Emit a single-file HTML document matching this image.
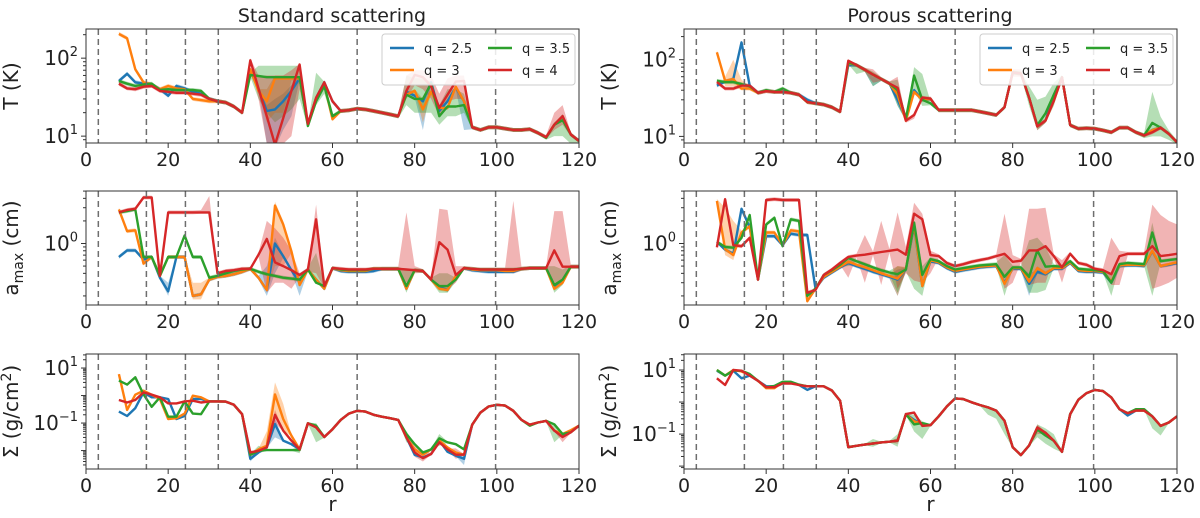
<!DOCTYPE html>
<html><head><meta charset="utf-8">
<style>
html,body{margin:0;padding:0;background:#fff;}
svg{display:block;font-family:"DejaVu Sans","Liberation Sans",sans-serif;}
</style></head>
<body>
<svg id="fig" width="1200" height="518" viewBox="0 0 1200 518"></svg>
<script>
const rVals=[8,10,12,14,16,18,20,22,24,26,28,30,32,34,36,38,40,42,44,46,48,50,52,54,56,58,60,62,64,66,68,70,72,74,76,78,80,82,84,86,88,90,92,94,96,98,100,102,104,106,108,110,112,114,116,118,120];
const xTicks=[0,20,40,60,80,100,120];
const gaps=[3,14.7,24.2,32.2,66,99.7];
const seriesNames=["q = 2.5","q = 3","q = 3.5","q = 4"];

// ---- Standard T ----
const T_std_red=[47,41,40,43,44,38,37,36,36,35,34,30,28,27,24,20,94,41,18,7.8,17,38,83,14.4,31,49,28,21,21.5,22.5,22,21,20,19,18,38,61,57,44,23,34,50,51,13,12,13,13,12.5,12,12,12.3,11,9.7,14,18,10.5,8.7];
const T_std_blue={8:51,10:63,12:49,14:47,16:46,18:40,20:33,22:44,24:41,26:37,28:35,30:30,40:69,42:40,44:21,46:22,48:28,50:38,52:55,78:37,80:33,82:28,84:49,86:21,88:28,90:42,92:28};
const T_std_orange={8:205,10:180,12:72,14:49,16:46,18:40,20:44,22:41,24:40,26:30,28:29,30:28,40:72,42:38,44:28,46:55,48:55,50:55,52:55,54:14,58:46,60:16.5,78:34,80:38,82:22,84:37,86:23,88:23,90:43,92:28};
const T_std_green={8:51,10:47,12:44,14:46,16:47,18:39,20:40,22:39,24:39,26:39,28:38,30:30,40:61,42:59,44:57,46:57,48:57,50:57,52:57,54:13.5,56:28,58:44,60:18,78:34,80:30,82:30,84:47,86:18,88:24,90:24,92:25,112:9.5,114:14,116:16};
const T_std_band_red={42:[30,60],44:[8,60],46:[6,60],48:[8,60],50:[10,70],52:[40,85],78:[30,60],80:[45,70],82:[40,70],84:[30,60],86:[18,35],88:[28,55],90:[30,60],92:[30,60],114:[12,20],116:[14,25]};
const T_std_band_green={42:[30,80],44:[20,80],46:[15,80],48:[18,80],50:[22,80],52:[30,80],56:[25,65],58:[35,50],78:[25,60],80:[20,55],82:[20,55],84:[20,50],86:[14,25],88:[18,40],90:[18,40],92:[20,35],114:[10,15],116:[10,18],118:[8,10],120:[7.5,9]};
const T_std_band_blue={44:[8,25],46:[7,30],48:[12,35],50:[18,45],82:[12,30],92:[12,30]};
const T_std_band_orange={44:[15,40],46:[20,60],48:[20,60],82:[15,30]};

// ---- Standard amax ----
const A_std_red=[2.6,2.8,2.9,4.1,4.1,0.37,2.6,2.6,2.6,2.6,2.6,2.6,0.40,0.43,0.44,0.46,0.46,0.71,1.15,0.56,0.5,0.44,0.38,0.45,2.1,0.27,0.47,0.46,0.45,0.45,0.45,0.46,0.46,0.46,0.46,0.45,0.44,0.43,0.33,1.04,0.83,0.38,0.47,0.46,0.45,0.45,0.45,0.45,0.45,0.46,0.47,0.47,0.47,0.81,0.49,0.49,0.49];
const A_std_blue={8:0.66,10:0.81,12:0.81,14:0.61,16:0.66,18:0.35,20:0.23,22:0.66,24:0.66,26:0.2,28:0.21,30:0.33,32:0.36,34:0.37,36:0.39,38:0.42,42:0.35,44:0.24,46:1.0,48:0.68,50:0.44,52:0.3,56:0.33,58:0.25,62:0.43,64:0.42,66:0.42,68:0.42,70:0.43,78:0.25,84:0.33,86:0.26,88:0.24,90:0.36,94:0.44,96:0.43,98:0.42,100:0.42,102:0.42,104:0.42,114:0.27,116:0.32};
const A_std_orange={8:2.85,10:1.46,12:1.5,14:0.54,16:0.66,20:0.66,22:0.66,24:0.66,26:0.2,28:0.21,30:0.33,32:0.36,34:0.37,36:0.39,38:0.42,42:0.35,44:0.24,46:3.2,48:1.8,50:0.79,52:0.28,56:0.33,58:0.25,62:0.44,64:0.43,66:0.43,68:0.43,78:0.25,84:0.33,86:0.25,88:0.24,90:0.37,94:0.45,96:0.44,98:0.44,100:0.44,102:0.43,104:0.43,114:0.25,116:0.3};
const A_std_green={8:2.6,10:2.7,12:2.85,14:0.66,16:0.66,20:0.66,22:0.66,24:1.28,26:0.66,28:0.66,30:0.35,32:0.37,34:0.40,36:0.43,38:0.45,42:0.42,44:0.39,46:0.37,48:0.35,50:0.34,52:0.33,56:0.3,58:0.27,62:0.45,64:0.44,66:0.44,68:0.44,78:0.27,84:0.33,86:0.27,88:0.27,90:0.33,114:0.28,116:0.33};
const A_std_band_red={28:[2.5,2.8],30:[2.5,4.3],44:[0.22,2.0],46:[0.3,1.6],48:[0.3,1.2],50:[0.25,0.8],56:[0.4,3.3],78:[0.3,2.6],80:[0.4,0.5],86:[0.25,2.9],88:[0.25,2.8],90:[0.3,0.5],104:[0.4,3.7],114:[0.3,2.7],116:[0.3,2.7]};
const A_std_band_green={56:[0.3,0.75],78:[0.22,0.45],86:[0.22,0.4],88:[0.22,0.4],114:[0.22,0.5],116:[0.28,0.45]};
const A_std_band_blue={20:[0.2,0.3],44:[0.2,0.5],46:[0.4,1.2],52:[0.2,0.4]};
const A_std_band_orange={26:[0.18,0.3],28:[0.18,0.3],46:[0.5,3.6],48:[0.5,2]};

// ---- Standard Sigma ----
const S_std_red=[0.69,0.56,0.69,1.3,1.07,0.86,0.52,0.52,0.61,0.65,0.56,0.61,0.61,0.6,0.46,0.21,0.0085,0.0098,0.013,0.2,0.053,0.023,0.011,0.098,0.07,0.031,0.06,0.13,0.22,0.28,0.26,0.2,0.17,0.15,0.13,0.03,0.0085,0.0053,0.0075,0.02,0.011,0.0071,0.0071,0.087,0.24,0.4,0.46,0.43,0.28,0.13,0.087,0.105,0.12,0.053,0.031,0.046,0.08];
const S_std_blue={8:0.26,10:0.18,12:0.35,14:1.3,16:0.86,18:0.86,20:0.75,22:0.14,24:0.18,26:0.75,28:0.75,30:0.61,40:0.005,42:0.0085,44:0.013,46:0.092,48:0.023,50:0.017,52:0.011,80:0.007,82:0.0056,84:0.0075,86:0.023,88:0.009,90:0.0065,92:0.005,116:0.035,118:0.05};
const S_std_orange={8:6,10:0.3,12:1.07,14:1.5,16:1.07,18:0.75,20:0.14,22:0.15,24:0.22,26:0.99,28:0.86,30:0.61,40:0.007,42:0.011,44:0.015,46:1.1,48:0.14,50:0.035,52:0.011,80:0.011,82:0.007,84:0.011,86:0.023,88:0.013,90:0.0085,92:0.007,116:0.04,118:0.055};
const S_std_green={8:3.5,10:2.5,12:4.6,14:1.1,16:0.39,18:0.86,20:0.17,22:0.17,24:0.61,26:0.22,28:0.21,30:0.61,40:0.007,42:0.0098,44:0.0104,46:0.0104,48:0.0104,50:0.0104,52:0.0104,56:0.08,78:0.04,80:0.017,82:0.0085,84:0.011,86:0.028,88:0.02,90:0.017,92:0.011,108:0.08,114:0.09,116:0.04};
const S_std_band_red={40:[0.006,0.01],46:[0.1,0.3],80:[0.006,0.015],82:[0.004,0.01],90:[0.005,0.012],116:[0.02,0.04]};
const S_std_band_green={42:[0.008,0.015],52:[0.008,0.014],56:[0.02,0.1],78:[0.02,0.05],86:[0.015,0.04],114:[0.02,0.1]};
const S_std_band_blue={40:[0.004,0.007],46:[0.03,0.15],92:[0.003,0.008]};
const S_std_band_orange={44:[0.01,0.05],46:[0.2,3],48:[0.05,0.5]};

// ---- Porous T ----
const T_por_red=[51,42,42,46,46,37,39,38,38,37,35,28,27,26,24,21,97,85,74,64,56,49,43,16,19,32,31,22,22,22,22,22,21,20,19,24,68,66,32,13.5,16,29,59,14,12.6,12.8,12.6,12,11.3,13,13,11.3,10.3,11.3,13,10.8,8.4];
const T_por_blue={8:46,10:52,12:56,14:168,16:46,30:30,40:85,52:30,54:17,56:40,58:30,90:35,114:12};
const T_por_orange={8:125,10:53,12:56,14:42,16:42,40:90,52:35,56:38,58:30,114:12};
const T_por_green={8:53,10:51,12:51,14:48,16:45,20:40,24:42,40:92,52:40,54:17,56:62,58:30,60:27,86:14,88:20,90:35,114:15,116:13};
const T_por_band_red={40:[85,100],46:[50,75],52:[30,60],56:[17,20],80:[60,75],82:[60,75],86:[12,15]};
const T_por_band_green={42:[65,90],46:[45,70],52:[25,55],56:[40,80],58:[25,65],84:[25,45],86:[12,30],88:[15,33],90:[25,50],112:[9.5,11],114:[10,38],116:[10,18],118:[9,12]};
const T_por_band_blue={46:[45,60],52:[25,40]};
const T_por_band_orange={10:[45,60],12:[45,100],14:[40,55]};

// ---- Porous amax ----
const A_por_red=[0.89,3.9,0.95,0.92,1.19,0.33,3.8,3.9,3.8,3.8,3.8,0.22,0.24,0.38,0.45,0.55,0.66,0.69,0.71,0.74,0.77,0.8,0.83,0.71,2.5,2.1,0.7,0.68,0.55,0.5,0.53,0.57,0.6,0.63,0.68,0.73,0.57,0.59,0.81,0.81,0.92,0.68,0.48,0.73,0.55,0.52,0.46,0.44,0.39,0.68,0.73,0.73,0.73,0.92,0.68,0.7,0.73];
const A_por_blue={8:1.05,10:0.83,12:0.73,14:2.9,16:1.65,20:1.25,22:1.25,24:0.95,26:1.35,28:1.3,30:1.3,32:0.25,34:0.35,36:0.41,38:0.48,40:0.55,42:0.5,44:0.46,46:0.42,48:0.39,50:0.36,52:0.33,54:0.45,56:1.7,58:0.27,60:0.58,62:0.55,64:0.47,66:0.42,68:0.44,70:0.46,72:0.48,74:0.49,76:0.5,78:0.3,80:0.46,82:0.46,84:0.29,86:0.42,88:0.39,90:0.46,92:0.46,94:0.55,96:0.43,98:0.42,100:0.42,102:0.41,104:0.3,106:0.5,108:0.51,110:0.51,112:0.5,114:0.79,116:0.5,118:0.52,120:0.55};
const A_por_orange={8:3.7,10:0.84,12:0.7,14:1.4,16:1.7,18:0.33,20:1.4,22:1.4,24:0.95,26:1.5,28:1.45,30:0.17,32:0.25,34:0.36,36:0.42,38:0.49,40:0.57,42:0.52,44:0.48,46:0.44,48:0.4,50:0.37,52:0.34,54:0.46,56:1.8,58:0.27,60:0.6,62:0.56,64:0.48,66:0.43,68:0.45,70:0.47,72:0.49,74:0.5,76:0.51,78:0.29,80:0.47,82:0.47,84:0.31,86:0.47,88:0.4,90:0.47,92:0.47,94:0.56,96:0.44,98:0.43,100:0.43,102:0.42,104:0.31,106:0.51,108:0.52,110:0.52,112:0.51,114:0.8,116:0.5,118:0.53,120:0.56};
const A_por_green={8:1.05,10:0.9,12:0.88,14:1.19,16:2.4,18:0.33,20:1.8,22:2.2,24:0.92,26:2.1,28:2.0,30:0.2,32:0.25,34:0.38,36:0.44,38:0.52,40:0.64,42:0.58,44:0.53,46:0.48,48:0.44,50:0.41,52:0.39,54:0.45,56:1.9,58:0.38,60:0.62,62:0.58,64:0.5,66:0.45,68:0.47,70:0.49,72:0.51,74:0.52,76:0.53,78:0.36,80:0.48,82:0.48,84:0.36,86:0.81,88:0.49,90:0.5,92:0.49,94:0.58,96:0.46,98:0.45,100:0.44,102:0.43,104:0.3,106:0.53,108:0.55,110:0.54,112:0.53,114:1.4,116:0.58,118:0.6,120:0.62};
const A_por_band_red={40:[0.35,0.7],44:[0.3,1.3],48:[0.28,2.0],52:[0.25,2.6],54:[0.4,0.9],56:[0.32,3.5],58:[0.3,2.5],60:[0.4,0.8],78:[0.25,2.5],80:[0.3,0.7],84:[0.28,2.9],86:[0.3,2.9],88:[0.3,3.0],92:[0.3,0.6],104:[0.28,1.2],106:[0.28,0.8],114:[0.25,3.3],116:[0.27,2.4],118:[0.3,2.0],120:[0.35,1.8]};
const A_por_band_green={40:[0.5,0.68],52:[0.22,0.5],56:[0.25,2.0],58:[0.2,0.5],78:[0.2,0.7],84:[0.22,1.1],86:[0.22,1.2],88:[0.24,0.9],104:[0.2,0.4],114:[0.2,1.9]};
const A_por_band_blue={52:[0.2,0.45],84:[0.2,0.4]};
const A_por_band_orange={10:[0.7,3.0],12:[0.6,2.0],52:[0.2,0.5]};

// ---- Porous Sigma ----
const S_por_red=[5.5,3.4,10,9.5,6.7,4.6,2.9,2.9,3.8,3.8,3.4,3.1,3.1,3.1,2.3,1.1,0.039,0.043,0.047,0.051,0.055,0.058,0.062,0.42,0.47,0.18,0.19,0.36,0.73,1.3,1.24,0.98,0.81,0.68,0.54,0.26,0.039,0.022,0.044,0.16,0.11,0.062,0.028,0.42,1.18,1.9,2.4,2.2,1.4,0.6,0.45,0.54,0.54,0.36,0.18,0.23,0.36];
const S_por_blue={8:9.5,10:6.7,12:9.5,14:5.5,16:6.7,20:3.1,22:3.1,24:4.2,26:4.2,28:3.4,30:2.4,56:0.28,58:0.2,108:0.38};
const S_por_orange={8:10,10:6.7,12:10,14:9,16:7,20:2.7,22:2.7,24:4.2,26:4.2,56:0.25,58:0.21};
const S_por_green={8:10,10:6.7,12:9.5,14:9.5,16:7.5,22:3.2,24:4.3,26:4.3,28:3.5,56:0.2,58:0.22,86:0.14,88:0.09,110:0.6,112:0.6};
const S_por_band_red={52:[0.05,0.075],86:[0.1,0.2]};
const S_por_band_green={40:[0.035,0.045],46:[0.04,0.07],52:[0.04,0.1],56:[0.12,0.4],58:[0.07,0.25],74:[0.4,0.7],76:[0.3,0.55],78:[0.1,0.3],86:[0.08,0.2],88:[0.05,0.15],90:[0.035,0.1],114:[0.15,0.4],116:[0.09,0.2]};
const S_por_band_blue={};
const S_por_band_orange={};

const COLORS=["#1f77b4","#ff7f0e","#2ca02c","#d62728"];
const NS="http://www.w3.org/2000/svg";
const svg=document.getElementById('fig');
function mk(tag,attrs,parent){const e=document.createElementNS(NS,tag);for(const k in attrs)e.setAttribute(k,attrs[k]);(parent||svg).appendChild(e);return e;}

const panels=[
 {id:'t-std',x0:86,x1:579,y0:29,y1:143,lo:0.912,hi:2.374,ticks:[1,2],base:T_std_red,ov:[T_std_blue,T_std_orange,T_std_green],bands:[T_std_band_blue,T_std_band_orange,T_std_band_green,T_std_band_red],ylab:'T (K)',legend:true},
 {id:'a-std',x0:86,x1:579,y0:191,y1:305,lo:-0.82,hi:0.7,ticks:[0],base:A_std_red,ov:[A_std_blue,A_std_orange,A_std_green],bands:[A_std_band_blue,A_std_band_orange,A_std_band_green,A_std_band_red],ylab:'amax'},
 {id:'s-std',x0:86,x1:579,y0:354,y1:469,lo:-2.67,hi:1.51,ticks:[1,-1],base:S_std_red,ov:[S_std_blue,S_std_orange,S_std_green],bands:[S_std_band_blue,S_std_band_orange,S_std_band_green,S_std_band_red],ylab:'sigma',xlab:true},
 {id:'t-por',x0:684,x1:1177,y0:29,y1:143,lo:0.914,hi:2.40,ticks:[1,2],base:T_por_red,ov:[T_por_blue,T_por_orange,T_por_green],bands:[T_por_band_blue,T_por_band_orange,T_por_band_green,T_por_band_red],ylab:'T (K)',legend:true},
 {id:'a-por',x0:684,x1:1177,y0:191,y1:305,lo:-0.82,hi:0.7,ticks:[0],base:A_por_red,ov:[A_por_blue,A_por_orange,A_por_green],bands:[A_por_band_blue,A_por_band_orange,A_por_band_green,A_por_band_red],ylab:'amax'},
 {id:'s-por',x0:684,x1:1177,y0:354,y1:469,lo:-2.09,hi:1.5,ticks:[1,-1],base:S_por_red,ov:[S_por_blue,S_por_orange,S_por_green],bands:[S_por_band_blue,S_por_band_orange,S_por_band_green,S_por_band_red],ylab:'sigma',xlab:true}
];

let t=mk('text',{x:332,y:22,'text-anchor':'middle','font-size':19,fill:'#222'});t.textContent='Standard scattering';


t=mk('text',{x:930,y:22,'text-anchor':'middle','font-size':19,fill:'#222'});t.textContent='Porous scattering';



panels.forEach((p,pi)=>{
 const g=mk('g',{});
 
 
 const xs=v=>p.x0+(v/120)*(p.x1-p.x0);
 const ys=v=>p.y1-(Math.log10(v)-p.lo)/(p.hi-p.lo)*(p.y1-p.y0);
 const cid='clip'+pi;
 const cp=mk('clipPath',{id:cid},g);mk('rect',{x:p.x0,y:p.y0,width:p.x1-p.x0,height:p.y1-p.y0},cp);
 const plot=mk('g',{'clip-path':'url(#'+cid+')'},g);
 const series=[0,1,2].map(i=>rVals.map((r,k)=>(p.ov[i][r]!==undefined?p.ov[i][r]:p.base[k])));
 series.push(p.base.slice());
 series.forEach((vals,si)=>{
  const bd=p.bands[si];
  const hi=rVals.map((r,k)=>bd[r]?bd[r][1]:vals[k]*1.06);
  const lo=rVals.map((r,k)=>bd[r]?bd[r][0]:vals[k]/1.06);
  let d='M'+rVals.map((r,k)=>xs(r).toFixed(1)+','+ys(hi[k]).toFixed(1)).join('L');
  for(let k=rVals.length-1;k>=0;k--)d+='L'+xs(rVals[k]).toFixed(1)+','+ys(lo[k]).toFixed(1);
  const b=mk('path',{d:d+'Z',fill:COLORS[si],'fill-opacity':0.35,stroke:'none'},plot);
  
  
 });
 series.forEach((vals,si)=>{
  const d='M'+rVals.map((r,k)=>xs(r).toFixed(1)+','+ys(vals[k]).toFixed(1)).join('L');
  const l=mk('path',{d:d,fill:'none',stroke:COLORS[si],'stroke-width':2.4,'stroke-linejoin':'round'},plot);
  
  
 });
 gaps.forEach(gx=>{
  const dl=mk('line',{x1:xs(gx),x2:xs(gx),y1:p.y0,y2:p.y1,stroke:'#6e6e6e','stroke-width':1.5,'stroke-dasharray':'6,4'},g);
  
  
 });
 const fr=mk('rect',{x:p.x0,y:p.y0,width:p.x1-p.x0,height:p.y1-p.y0,fill:'none',stroke:'#333','stroke-width':1},g);
 
 
 xTicks.forEach(v=>{
  mk('line',{x1:xs(v),x2:xs(v),y1:p.y1,y2:p.y1+5,stroke:'#333'},g);
  const tl=mk('text',{x:xs(v),y:p.y1+23,'text-anchor':'middle','font-size':19,fill:'#222'},g);
  tl.textContent=v;
  
  
 });
 for(let dcd=Math.floor(p.lo)-1;dcd<=Math.ceil(p.hi);dcd++){
  for(let m=1;m<10;m++){
   const lv=dcd+Math.log10(m);
   if(lv<p.lo||lv>p.hi)continue;
   const yy=p.y1-(lv-p.lo)/(p.hi-p.lo)*(p.y1-p.y0);
   mk('line',{x1:p.x0-(m===1?5:3),x2:p.x0,y1:yy,y2:yy,stroke:'#333'},g);
  }
 }
 p.ticks.forEach(e=>{
  const yy=p.y1-(e-p.lo)/(p.hi-p.lo)*(p.y1-p.y0);
  const tl=mk('text',{x:p.x0-8,y:yy+7,'text-anchor':'end','font-size':20,fill:'#222'},g);
  const a=mk('tspan',{},tl);a.textContent='10';
  const sp=mk('tspan',{'font-size':13,dy:-9},tl);sp.textContent=(e<0?'\u2212'+(-e):String(e));
  
  
 });
 const cx=p.x0-68, cy=(p.y0+p.y1)/2;
 const yl=mk('text',{x:cx,y:cy,'text-anchor':'middle','font-size':20,fill:'#222',transform:`rotate(-90 ${cx} ${cy})`},g);
 if(p.ylab==='amax'){yl.textContent='a';const s=mk('tspan',{'font-size':14,dy:5},yl);s.textContent='max';const s2=mk('tspan',{dy:-5},yl);s2.textContent=' (cm)';}
 else if(p.ylab==='sigma'){yl.textContent='\u03A3 (g/cm';const s=mk('tspan',{'font-size':14,dy:-7},yl);s.textContent='2';const s2=mk('tspan',{dy:7},yl);s2.textContent=')';}
 else yl.textContent=p.ylab;
 
 
 if(p.xlab){
  const xl=mk('text',{x:(p.x0+p.x1)/2,y:511,'text-anchor':'middle','font-size':20,fill:'#222'},g);
  xl.textContent='r';
  
  
 }
 if(p.legend){
  const lg=mk('g',{},g);
  
  
  const lx=p.x1-197, ly=p.y0+5;
  mk('rect',{x:lx,y:ly,width:193,height:51,rx:3,fill:'#fff','fill-opacity':0.85,stroke:'#ccc'},lg);
  seriesNames.forEach((n,i)=>{
   const col=i===0||i===1?0:1, row=i===0||i===2?0:1;
   const ex=lx+8+col*98, ey=ly+14+row*22;
   const e=mk('g',{},lg);
   
   
   mk('line',{x1:ex,x2:ex+24,y1:ey,y2:ey,stroke:COLORS[i],'stroke-width':2.5},e);
   const tx=mk('text',{x:ex+34,y:ey+5,'font-size':13,fill:'#222'},e);tx.textContent=n;
  });
 }
});
</script>
</body></html>
